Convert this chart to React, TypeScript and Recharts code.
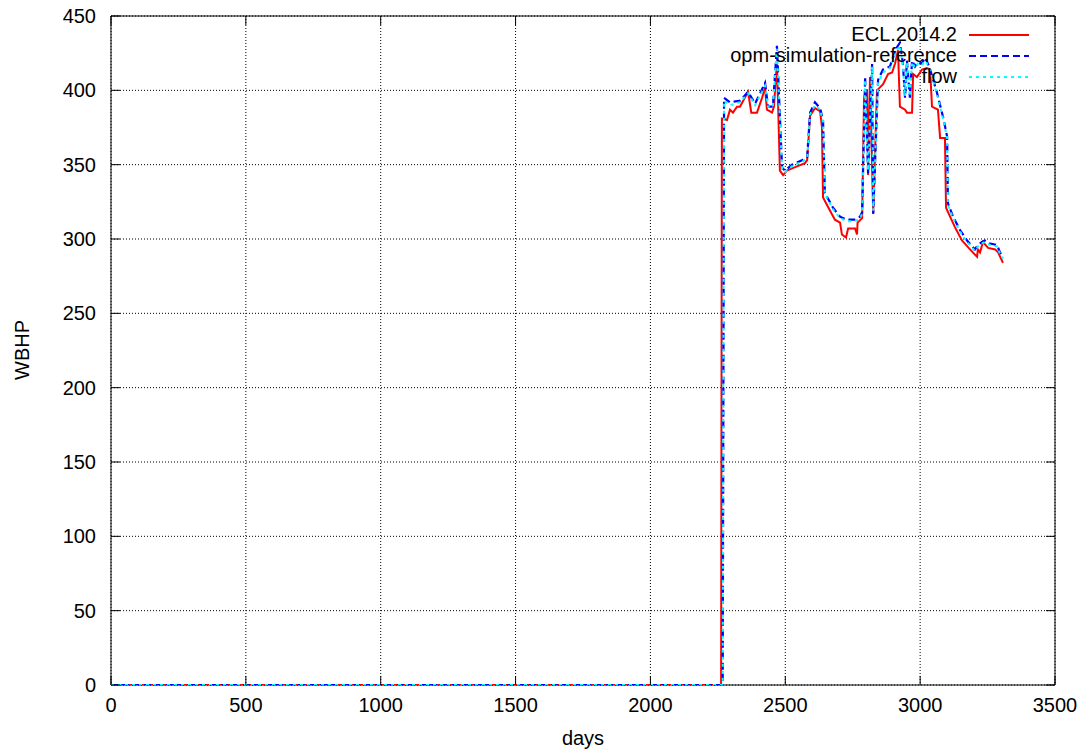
import { CartesianGrid, Line, LineChart, ReferenceArea, XAxis, YAxis } from "recharts";

// plot box in svg pixels (gnuplot-style frame with inward ticks)
const PLOT = { left: 111, top: 16, right: 1055, bottom: 685 };
const FONT = "'Liberation Sans', Arial, Helvetica, sans-serif";

const xTicks = [0, 500, 1000, 1500, 2000, 2500, 3000, 3500];
const yTicks = [0, 50, 100, 150, 200, 250, 300, 350, 400, 450];

const eclDays = [
  0, 2262, 2265, 2284, 2295, 2306, 2321, 2332, 2362, 2374, 2395, 2414, 2425, 2432, 2451, 2458, 2469, 2480, 2492,
  2506, 2532, 2573, 2581, 2592, 2610, 2629, 2636, 2640, 2666, 2684, 2703, 2710, 2725, 2733, 2759, 2766, 2768,
  2785, 2792, 2799, 2803, 2807, 2814, 2826, 2840, 2851, 2862, 2881, 2896, 2907, 2918, 2925, 2944, 2951, 2970,
  2974, 2988, 3007, 3025, 3037, 3044, 3066, 3074, 3092, 3096, 3111, 3129, 3155, 3185, 3211, 3214, 3222, 3233,
  3252, 3278, 3289, 3307,
];
const eclWbhp = [
  0, 0, 381, 380, 387, 385, 389, 389, 399, 385, 385, 395, 402, 387, 385, 389, 419, 346, 343,
  346, 348, 351, 353, 383, 388, 386, 375, 328, 319, 313, 311, 303, 301, 307, 307, 303, 311,
  314, 395, 400, 400, 343, 409, 317, 400, 402, 404, 411, 412, 418, 427, 389, 387, 385, 385,
  411, 409, 414, 415, 414, 389, 387, 368, 368, 321, 315, 308, 299, 293, 288, 293, 291, 298,
  294, 293, 291, 284,
];

const opmDays = [
  0, 2268, 2273, 2295, 2332, 2362, 2388, 2425, 2436, 2454, 2469, 2488, 2499, 2525, 2562, 2581, 2592, 2610, 2629,
  2640, 2644, 2647, 2677, 2703, 2729, 2759, 2777, 2785, 2796, 2807, 2822, 2826, 2844, 2862, 2888, 2899, 2914,
  2925, 2936, 2944, 2951, 2962, 2970, 2981, 2992, 3007, 3018, 3029, 3044, 3063, 3085, 3100, 3103, 3122, 3148,
  3174, 3203, 3214, 3229, 3240, 3259, 3285, 3296, 3307,
];
const opmWbhp = [
  0, 0, 395, 392, 393, 399, 391, 405, 389, 389, 430, 348, 346, 350, 353, 355, 385, 392, 388,
  380, 351, 331, 321, 315, 313, 313, 315, 318, 409, 344, 418, 317, 407, 414, 416, 422, 429,
  432, 418, 395, 420, 395, 420, 416, 419, 418, 422, 418, 410, 398, 382, 369, 324, 315, 306,
  299, 293, 296, 298, 299, 297, 296, 291, 288,
];

const flowDays = opmDays;
const flowWbhp = [
  0, 0, 393, 390, 392, 398, 390, 403, 389, 389, 428, 347, 345, 349, 352, 354, 384, 390, 387,
  379, 350, 330, 320, 314, 312, 312, 314, 317, 407, 346, 416, 319, 405, 412, 415, 420, 427,
  430, 417, 396, 419, 396, 419, 415, 418, 417, 420, 417, 409, 397, 381, 368, 323, 314, 305,
  298, 292, 295, 297, 298, 296, 295, 290, 287,
];

const toPoints = (days: number[], vals: number[]) => days.map((d, i) => ({ d, v: vals[i] }));

const series = [
  { name: "ECL.2014.2", data: toPoints(eclDays, eclWbhp), color: "#ff0000", dash: undefined, width: 2 },
  { name: "opm-simulation-reference", data: toPoints(opmDays, opmWbhp), color: "#0000ff", dash: "7 4", width: 2.2 },
  { name: "flow", data: toPoints(flowDays, flowWbhp), color: "#00ffff", dash: "3 4", width: 2 },
];

function YTick({ y, payload }: any) {
  return (
    <g>
      <line x1={PLOT.left} x2={PLOT.left + 9} y1={y} y2={y} stroke="#000" />
      <line x1={PLOT.right - 9} x2={PLOT.right} y1={y} y2={y} stroke="#000" />
      <text x={PLOT.left - 15} y={y} textAnchor="end" dominantBaseline="central" fontSize={20} fontFamily={FONT} fill="#000">
        {payload.value}
      </text>
    </g>
  );
}

function XTick({ x, payload }: any) {
  return (
    <g>
      <line x1={x} x2={x} y1={PLOT.bottom} y2={PLOT.bottom - 9} stroke="#000" />
      <line x1={x} x2={x} y1={PLOT.top} y2={PLOT.top + 9} stroke="#000" />
      <text x={x} y={PLOT.bottom + 20} textAnchor="middle" dominantBaseline="central" fontSize={20} fontFamily={FONT} fill="#000">
        {payload.value}
      </text>
    </g>
  );
}

export default function App() {
  return (
    <div style={{ position: "absolute", left: 0, top: 0, width: 1086, height: 754, background: "#fff", fontFamily: FONT }}>
      <LineChart width={1086} height={754} margin={{ top: 16, right: 31, bottom: 0, left: 0 }}>
        <CartesianGrid stroke="#000" strokeDasharray="1 2" horizontalValues={yTicks} verticalValues={xTicks} />
        <XAxis
          dataKey="d"
          type="number"
          domain={[0, 3500]}
          ticks={xTicks}
          height={69}
          axisLine={false}
          tickLine={false}
          tick={<XTick />}
          allowDataOverflow
        />
        <YAxis
          type="number"
          domain={[0, 450]}
          ticks={yTicks}
          width={111}
          axisLine={false}
          tickLine={false}
          tick={<YTick />}
          allowDataOverflow
        />
        <ReferenceArea x1={0} x2={3500} y1={0} y2={450} fill="none" stroke="#000" strokeWidth={1} ifOverflow="visible" />
        {series.map((s) => (
          <Line
            key={s.name}
            data={s.data}
            dataKey="v"
            name={s.name}
            type="linear"
            stroke={s.color}
            strokeWidth={s.width}
            strokeDasharray={s.dash}
            dot={false}
            isAnimationActive={false}
          />
        ))}
      </LineChart>

      {/* legend, gnuplot style: key text right-aligned, sample to the right */}
      <div style={{ position: "absolute", top: 24, left: 700, width: 340 }}>
        {series.map((s) => (
          <div key={s.name} style={{ display: "flex", alignItems: "center", height: 21, justifyContent: "flex-end" }}>
            <span style={{ fontSize: 20, color: "#000", lineHeight: "21px", marginRight: 12, background: "transparent" }}>{s.name}</span>
            <svg width={60} height={6} style={{ marginRight: 11 }}>
              <line x1={0} x2={60} y1={3} y2={3} stroke={s.color} strokeWidth={s.width} strokeDasharray={s.dash} />
            </svg>
          </div>
        ))}
      </div>

      <div style={{ position: "absolute", left: 0, width: 1086, top: 727, paddingLeft: 111, boxSizing: "border-box" }}>
        <div style={{ width: 944, textAlign: "center", fontSize: 20 }}>days</div>
      </div>
      <div
        style={{
          position: "absolute",
          left: 22,
          top: 350,
          transform: "translate(-50%, -50%) rotate(-90deg)",
          fontSize: 20,
          whiteSpace: "nowrap",
        }}
      >
        WBHP
      </div>
    </div>
  );
}
